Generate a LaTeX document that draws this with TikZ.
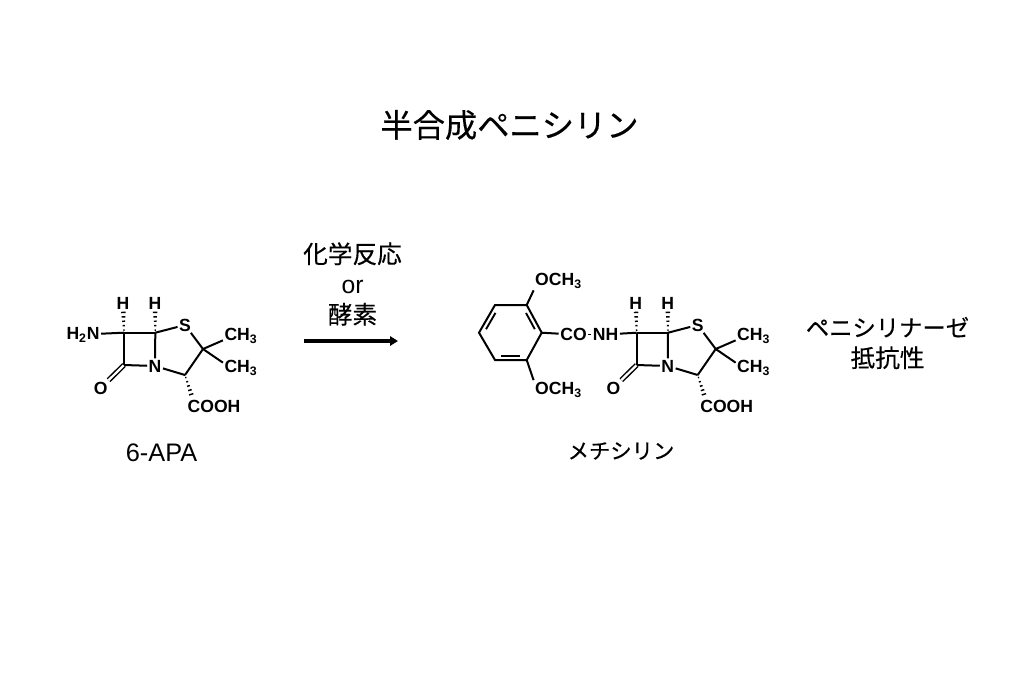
\documentclass[tikz,border=0pt]{standalone}
\usepackage{fontspec}
\setmainfont{Liberation Sans}
\newfontfamily\jp[RawFeature={embolden=0.4}]{Noto Sans CJK JP}
\usetikzlibrary{arrows.meta,calc,decorations.markings}
\tikzstyle{atom} = [inner sep=1pt, font=\fontsize{13.2}{14}\selectfont\bfseries]
\tikzstyle{bond} = [line width=1.5pt]
\tikzstyle{dblbond} = [line width=1.1pt, double, double distance=1.7pt]
\tikzstyle{inbond} = [line width=1.4pt, shorten <=3pt, shorten >=3pt]
\tikzstyle{hashed} = [decoration={markings, mark=between positions 2pt and 1 step 3.3pt with {
	\pgfmathsetmacro\hw{0.3+0.09*\pgfkeysvalueof{/pgf/decoration/mark info/distance from start}}
	\draw[line width=1.1pt] (0,-\hw pt) -- (0,\hw pt);}}, decorate]
\tikzstyle{cjklabel} = [inner sep=0pt, align=center]
\begin{document}
\begin{tikzpicture}[x=0.75pt, y=-0.75pt]
	\useasboundingbox (0,0) rectangle (1023,682);
	\node [cjklabel, font=\jp\fontsize{24.2}{28}\selectfont] (title) at (509.5,125) {半合成ペニシリン};

	% penam core, drawn twice
	\foreach \pre/\dx in {a/0, b/512.7} {
	\begin{scope}[shift={(\dx,0)}, name prefix=\pre-]
		\coordinate (c6) at (124,332.7);
		\coordinate (c5) at (155.3,332.7);
		\coordinate (c7) at (124,365);
		\coordinate (c3) at (203,349);
		\coordinate (c2) at (185,375);
		\node [atom] (n) at (155,366) {N};
		\node [atom] (s) at (185,325) {S};
		\node [atom] (o) at (100.7,388) {O};
		\node [atom] (h1) at (123,303) {H};
		\node [atom] (h2) at (155,303) {H};
		\node [atom] (me1) at (241,335.5) {CH\textsubscript{3}};
		\node [atom] (me2) at (241,367.5) {CH\textsubscript{3}};
		\node [atom] (cooh) at (214,406) {COOH};

		\draw[dblbond] (c7) -- (o);
		\draw[bond] (c6) -- (c5);
		\draw[bond] (c6) -- (c7);
		\draw[bond] (c5) -- (n);
		\draw[bond] (c7) -- (n);
		\draw[bond] (c5) -- (s);
		\draw[bond] (s) -- (c3);
		\draw[bond] (n) -- (c2);
		\draw[bond] (c2) -- (c3);
		\draw[bond] (c3) -- (me1.195);
		\draw[bond] (c3) -- (me2.165);
		\path[hashed] (c6) -- (h1);
		\path[hashed] (c5) -- (h2);
		\path[hashed] (c2) -- (cooh.160);
	\end{scope}
	}

	% 6-APA side group
	\node [atom] (nh2) at (83,334.5) {H\textsubscript{2}N};
	\draw[bond] (nh2) -- (a-c6);
	\node [cjklabel, font=\fontsize{19}{22}\selectfont] (apa) at (161.5,453) {6-APA};

	% methicillin side chain
	\coordinate (r1) at (541.7,332.7);
	\coordinate (r2) at (526.7,305);
	\coordinate (r3) at (495,305);
	\coordinate (r4) at (479,332.7);
	\coordinate (r5) at (495,360);
	\coordinate (r6) at (526.7,360);
	\coordinate (rc) at (510.5,332.7);
	\coordinate (i1) at ($(r1)!0.16!(rc)$);
	\coordinate (i2) at ($(r2)!0.16!(rc)$);
	\coordinate (i3) at ($(r3)!0.16!(rc)$);
	\coordinate (i4) at ($(r4)!0.16!(rc)$);
	\coordinate (i5) at ($(r5)!0.16!(rc)$);
	\coordinate (i6) at ($(r6)!0.16!(rc)$);
	\node [atom] (ome1) at (558.5,281) {OCH\textsubscript{3}};
	\node [atom] (ome2) at (558.5,389.5) {OCH\textsubscript{3}};
	\node [atom] (co) at (573.5,334.5) {CO};
	\node [atom] (nh) at (605.5,334.5) {NH};
	\draw[bond] (r1) -- (r2) -- (r3) -- (r4) -- (r5) -- (r6) -- cycle;
	\draw[inbond] (i1) -- (i2);
	\draw[inbond] (i3) -- (i4);
	\draw[inbond] (i5) -- (i6);
	\draw[bond] (r2) -- (ome1.south west);
	\draw[bond] (r6) -- (ome2.north west);
	\draw[bond] (r1) -- (co);
	\draw[line width=0.6pt] (co) -- (nh);
	\draw[bond] (nh) -- (b-c6);
	\node [cjklabel, font=\jp\fontsize{16}{20}\selectfont] (meth) at (621,451) {メチシリン};

	% reaction arrow
	\node [cjklabel, font=\fontsize{18.5}{22.7}\selectfont] (cond) at (352.5,284) {{\jp 化学反応}\\or\\{\jp 酵素}};
	\coordinate (start) at (304,341);
	\coordinate (end) at (398,341);
	\draw[-{Triangle[length=6pt,width=7pt]}, line width=2.4pt] (start) -- (end);

	\node [cjklabel, font=\jp\fontsize{17.5}{23}\selectfont] (resist) at (887.5,343) {ペニシリナーゼ\\{\fontsize{18.5}{23}\selectfont 抵抗性}};
\end{tikzpicture}
\end{document}
